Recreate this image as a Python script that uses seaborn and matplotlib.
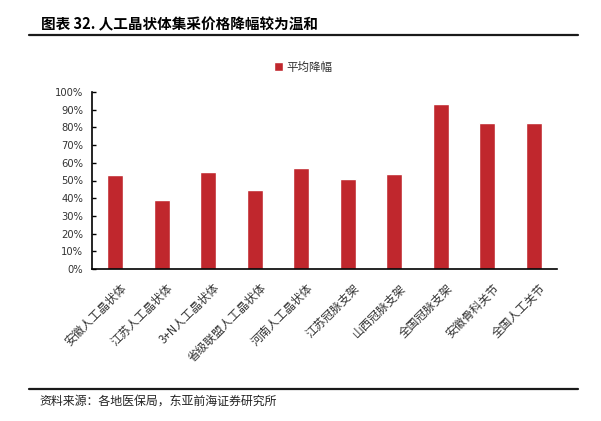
import matplotlib
matplotlib.use("Agg")
import matplotlib.pyplot as plt
import matplotlib.transforms as mtransforms
from matplotlib.ticker import PercentFormatter, MultipleLocator
import seaborn as sns
import pandas as pd

categories = ["安徽人工晶状体", "江苏人工晶状体", "3+N人工晶状体", "省级联盟人工晶状体",
              "河南人工晶状体", "江苏冠脉支架", "山西冠脉支架", "全国冠脉支架",
              "安徽骨科关节", "全国人工关节"]
avg_drop = [0.53, 0.39, 0.55, 0.445, 0.57, 0.51, 0.535, 0.935, 0.825, 0.825]
series_name = "平均降幅"
title = "图表 32. 人工晶状体集采价格降幅较为温和"
source = "资料来源：各地医保局，东亚前海证券研究所"

sns.set_style("white")
plt.rcParams["font.family"] = ["Noto Sans CJK SC", "DejaVu Sans"]

W, H = 601, 421
fig = plt.figure(figsize=(W / 100, H / 100), dpi=100)
ax = fig.add_axes([92 / W, 1 - 269 / H, (557 - 92) / W, (269 - 92) / H])

df = pd.DataFrame({"cat": categories, "val": avg_drop})
sns.barplot(data=df, x="cat", y="val", color="#C0272D", saturation=1,
            width=0.345, label=series_name, ax=ax)

ax.set_xlim(-0.5, len(categories) - 0.5)
ax.set_ylim(0, 1)
ax.yaxis.set_major_locator(MultipleLocator(0.1))
ax.yaxis.set_major_formatter(PercentFormatter(1.0, decimals=0))
ax.set_xlabel("")
ax.set_ylabel("")

for s in ["top", "right"]:
    ax.spines[s].set_visible(False)
for s in ["left", "bottom"]:
    ax.spines[s].set_color("black")
    ax.spines[s].set_linewidth(1.2)

ax.tick_params(axis="y", direction="in", length=3, width=1, color="black",
               pad=6.5, labelsize=7.2, labelcolor="#333333", left=True)
for lbl in ax.get_yticklabels():
    lbl.set_family(["DejaVu Sans"])
ax.tick_params(axis="x", length=0, pad=9)

offset = mtransforms.ScaledTranslation(5 / 100, 0, fig.dpi_scale_trans)
for lbl in ax.get_xticklabels():
    lbl.set_rotation(45)
    lbl.set_ha("right")
    lbl.set_va("top")
    lbl.set_rotation_mode("anchor")
    lbl.set_fontsize(8.4)
    lbl.set_color("#333333")
    lbl.set_transform(lbl.get_transform() + offset)

leg = ax.legend(loc="center", bbox_to_anchor=(303 / W, 1 - 67 / H),
                bbox_transform=fig.transFigure, frameon=False, fontsize=8.3,
                handlelength=0.75, handleheight=0.75, handletextpad=0.3,
                borderpad=0, borderaxespad=0)
for t in leg.get_texts():
    t.set_color("#333333")

fig.text(41 / W, 1 - 24 / H, title, fontsize=10.5, fontweight="bold",
         ha="left", va="center", color="black")
fig.add_artist(plt.Line2D([29 / W, 578 / W], [1 - 34.5 / H, 1 - 34.5 / H],
                          color="#1a1a1a", linewidth=1.6, transform=fig.transFigure))
fig.add_artist(plt.Line2D([29 / W, 578 / W], [1 - 388.5 / H, 1 - 388.5 / H],
                          color="#1a1a1a", linewidth=1.6, transform=fig.transFigure))
fig.text(39 / W, 1 - 401 / H, source, fontsize=8.6, ha="left", va="center",
         color="#222222")

fig.savefig("out.png", dpi=100)
